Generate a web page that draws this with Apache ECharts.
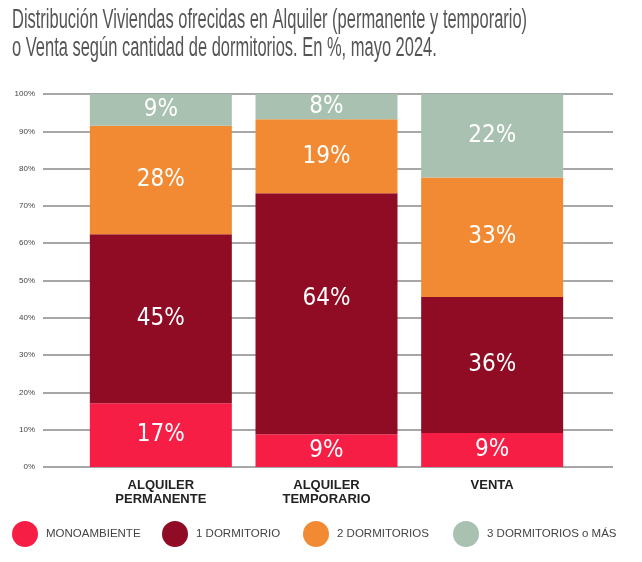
<!DOCTYPE html>
<html>
<head>
<meta charset="utf-8">
<script src="https://cdn.jsdelivr.net/npm/echarts@6/dist/echarts.min.js"></script>
<style>
  html, body { margin: 0; padding: 0; background: #fff; }
  #chart { width: 642px; height: 562px; }
</style>
</head>
<body>
<div id="chart"></div>
<script>
// ---------- datos ----------
const categorias = ['ALQUILER\nPERMANENTE', 'ALQUILER\nTEMPORARIO', 'VENTA'];
const series_nombres = ['MONOAMBIENTE', '1 DORMITORIO', '2 DORMITORIOS', '3 DORMITORIOS o MÁS'];

// alto real de cada tramo (%)
const monoambiente = [17.1, 8.8, 9.1];
const unDormitorio = [45.3, 64.6, 36.5];
const dosDormitorios = [29.1, 19.8, 32.0];
const tresOMas = [8.5, 6.8, 22.4];

// porcentaje impreso en cada tramo
const etqMono = [17, 9, 9];
const etqUno = [45, 64, 36];
const etqDos = [28, 19, 33];
const etqTres = [9, 8, 22];

const colores = ['#f71e45', '#8f0c24', '#f28a33', '#a9c1b1'];

let myChart = echarts.init(document.getElementById('chart'));

function serie(i, valores, etiquetas){
    return {
        name: series_nombres[i],
        type: 'bar',
        stack: 'total',
        xAxisIndex: 1,
        yAxisIndex: 1,
        barWidth: 142,
        color: colores[i],
        itemStyle: { color: colores[i] },
        label: {
            show: true,
            position: 'inside',
            color: '#fff',
            fontFamily: '"DejaVu Sans Condensed", sans-serif',
            fontSize: 24,
            formatter: function(p){ return etiquetas[p.dataIndex] + '%'; }
        },
        data: valores.map(function(v, k){
            // el 64% no esta centrado en el original
            if (i == 1 && k == 1) return { value: v, label: { offset: [0, -15] } };
            return v;
        })
    };
}

// una leyenda por item, para ubicarlas como en el original
const legendLeft = [12, 162, 303, 453];
let legends = series_nombres.map(function(n, i){
    return {
        data: [n],
        left: legendLeft[i],
        top: 521,
        padding: 0,
        icon: 'circle',
        itemWidth: 26,
        itemHeight: 26,
        textStyle: {
            fontFamily: '"Liberation Sans", Arial, sans-serif',
            fontSize: 11.5,
            color: '#444',
            padding: [0, 0, 0, 3]
        }
    };
});

option = {
    animation: false,
    graphic: [
        {
            type: 'text',
            left: 12,
            top: 7,
            scaleX: 0.61,
            style: {
                text: 'Distribución Viviendas ofrecidas en Alquiler (permanente y temporario)\no Venta según cantidad de dormitorios. En %, mayo 2024.',
                font: '27px "Liberation Sans", sans-serif',
                lineHeight: 28,
                fill: '#555'
            }
        }
    ],
    legend: legends,
    grid: [
        { left: 43, right: 29, top: 94, bottom: 95 },
        { left: 78, right: 67, top: 94, bottom: 95 }
    ],
    xAxis: [
        { type: 'category', gridIndex: 0, data: [''], show: false },
        {
            type: 'category',
            gridIndex: 1,
            data: categorias,
            axisLine: { show: false },
            axisTick: { show: false },
            axisLabel: {
                margin: 11,
                color: '#222',
                fontWeight: 'bold',
                fontSize: 13,
                lineHeight: 14.5,
                fontFamily: '"Liberation Sans", Arial, sans-serif'
            }
        }
    ],
    yAxis: [
        {
            type: 'value',
            gridIndex: 0,
            min: 0,
            max: 100,
            interval: 10,
            axisLine: { show: false },
            axisTick: { show: false },
            axisLabel: {
                formatter: '{value}%',
                margin: 8,
                fontSize: 8,
                color: '#444',
                fontFamily: '"Liberation Sans", Arial, sans-serif'
            },
            splitLine: { lineStyle: { color: '#8a8a8a', width: 1.5 } }
        },
        { type: 'value', gridIndex: 1, min: 0, max: 100, show: false }
    ],
    series: [
        serie(0, monoambiente, etqMono),
        serie(1, unDormitorio, etqUno),
        serie(2, dosDormitorios, etqDos),
        serie(3, tresOMas, etqTres)
    ]
};
myChart.setOption(option);
</script>
</body>
</html>
